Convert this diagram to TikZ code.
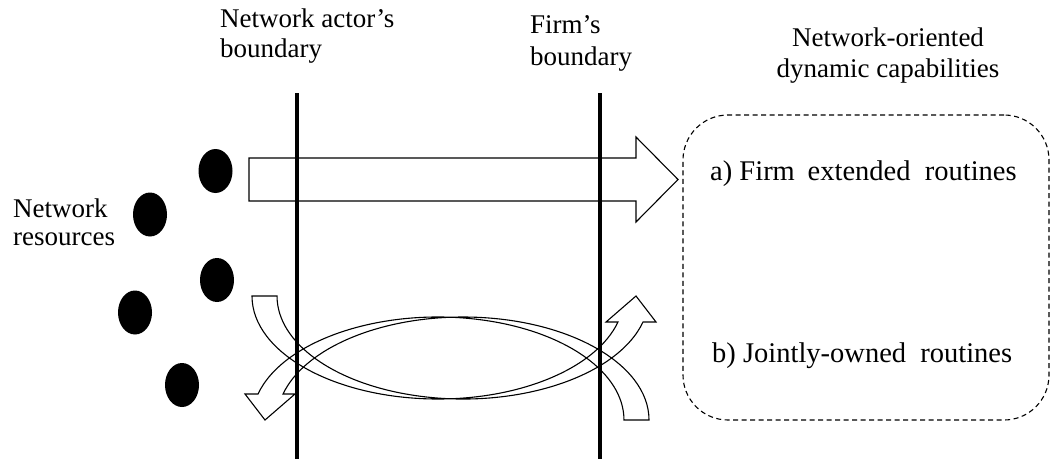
\documentclass[tikz,border=0pt]{standalone}
\usepackage{fontspec}
\setmainfont{Liberation Serif}
\usetikzlibrary{shapes.geometric}
\begin{document}
\begin{tikzpicture}[x=1pt,y=-1pt,
  lbl/.style={inner sep=0pt, anchor=base west, align=left},
  resdot/.style={ellipse, fill=black, minimum width=34pt, minimum height=44pt, inner sep=0pt},
  bound/.style={line width=3.6pt},
  blk/.style={line width=1.1pt, line join=miter},
  capbox/.style={draw, line width=1.1pt, dash pattern=on 5pt off 3.5pt, rounded corners=45pt, inner sep=0pt}]
\useasboundingbox (0,0) rectangle (1051,459);

% labels (anchor = baseline of the last line)
\node[lbl, font=\fontsize{27}{29.5}\selectfont] (nab) at (220,57) {Network actor’s\\boundary};
\node[lbl, font=\fontsize{27}{32}\selectfont] (fb) at (530,65) {Firm’s\\boundary};
\node[lbl, anchor=base, align=center, font=\fontsize{27}{31}\selectfont] (ndc) at (888,77) {Network-oriented\\dynamic capabilities};
\node[lbl, font=\fontsize{27}{28}\selectfont] (nr) at (13,245) {Network\\resources};

% boundaries
\coordinate (b1t) at (297,93); \coordinate (b1b) at (297,459);
\coordinate (b2t) at (600,93); \coordinate (b2b) at (600,459);
\draw[bound] (b1t) -- (b1b);
\draw[bound] (b2t) -- (b2b);

% resources
\node[resdot] (r1) at (215.5,171) {};
\node[resdot] (r2) at (150,214.5) {};
\node[resdot] (r3) at (217,280) {};
\node[resdot] (r4) at (135,312.5) {};
\node[resdot] (r5) at (182,385) {};

% capabilities box
\node[capbox, minimum width=366pt, minimum height=305pt] (dc) at (866,267.5) {};
\node[lbl, font=\fontsize{28.5}{30}\selectfont] (fer) at (710,180) {a) Firm\hspace{0.45em}extended\hspace{0.5em}routines};
\node[lbl, font=\fontsize{28.5}{30}\selectfont] (jor) at (712,362) {b) Jointly-owned\hspace{0.5em}routines};

% straight block arrow
\draw[blk] (249,158) -- (636,158) -- (636,137) -- (678,179.5) -- (636,222) -- (636,201) -- (249,201) -- cycle;

% curved block arrows
\def\curvedblock{%
  \draw[blk] (649,420) arc[start angle=0, end angle=165.38, x radius=186pt, y radius=103pt]
    -- (295,394) -- (265,420) -- (245,394) -- (258,394)
    arc[start angle=165.38, end angle=0, x radius=186pt, y radius=103pt] -- cycle;}
\curvedblock
\begin{scope}[rotate around={180:(450.5,358)}]
\curvedblock
\end{scope}
\end{tikzpicture}
\end{document}
